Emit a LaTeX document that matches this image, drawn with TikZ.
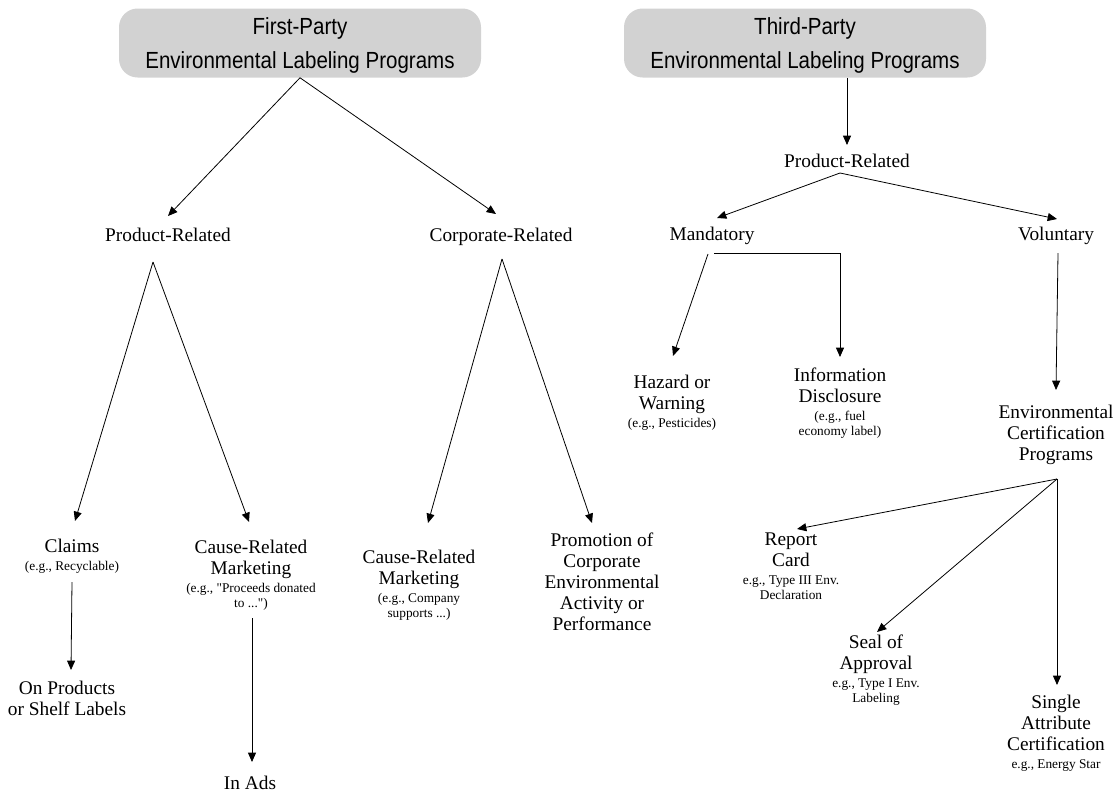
\documentclass[tikz,border=0pt]{standalone}
\usepackage{fontspec}
\setmainfont{Liberation Serif}
\newfontfamily\hdfont[FakeStretch=0.88]{Liberation Sans}
\usetikzlibrary{arrows.meta}

% 小字 (e.g., ...)
\newcommand{\egfont}{\fontsize{10}{11.25}\selectfont}

\tikzset{
  hdbox/.style={fill=gray!35, rounded corners=14pt, minimum width=271.5pt,
    minimum height=51.75pt, inner sep=0pt, text depth=0pt, align=center,
    font=\hdfont\fontsize{17.5}{25.5}\selectfont},
  lbl/.style={inner sep=0pt, align=center, font=\fontsize{14.5}{15.75}\selectfont},
  arr/.style={-{Triangle[length=7pt,width=6pt]}, line width=0.6pt},
  ln/.style={line width=0.6pt},
}

\begin{document}
\begin{tikzpicture}[x=0.75pt,y=-0.75pt]
    \useasboundingbox (0,0) rectangle (1120,793);

    % 标题框
    \node[hdbox] (fp) at (300,43) {First-Party\\Environmental Labeling Programs};
    \node[hdbox] (tp) at (805,43) {Third-Party\\Environmental Labeling Programs};

    % 第一方
    \node[lbl] (prl) at (168,235) {Product-Related};
    \node[lbl] (crl) at (501,237) {Corporate-Related};
    \node[lbl] (clm) at (72,556) {Claims\\[-2pt]\egfont (e.g., Recyclable)};
    \node[lbl] (crma) at (251,575) {Cause-Related\\Marketing\\[-2pt]\egfont (e.g., \textquotedbl Proceeds donated\\[-4.5pt]\egfont to ...\textquotedbl)};
    \node[lbl] (onp) at (67,698) {On Products\\or Shelf Labels};
    \node[lbl] (ads) at (250,783) {In Ads};
    \node[lbl] (crmb) at (419,585) {Cause-Related\\Marketing\\[-2pt]\egfont (e.g., Company\\[-4.5pt]\egfont supports ...)};
    \node[lbl] (prom) at (602,582) {Promotion of\\Corporate\\Environmental\\Activity or\\Performance};

    % 第三方
    \node[lbl] (prr) at (847,161) {Product-Related};
    \node[lbl] (man) at (712,236) {Mandatory};
    \node[lbl] (vol) at (1056,236) {Voluntary};
    \node[lbl] (haz) at (672,403) {Hazard or\\Warning\\[-2pt]\egfont (e.g., Pesticides)};
    \node[lbl] (inf) at (840,403) {Information\\Disclosure\\[-2pt]\egfont (e.g., fuel\\[-4.5pt]\egfont economy label)};
    \node[lbl] (ecp) at (1056,435) {Environmental\\Certification\\Programs};
    \node[lbl] (rep) at (791,566) {Report\\Card\\[-2pt]\egfont e.g., Type III Env.\\[-4.5pt]\egfont Declaration};
    \node[lbl] (seal) at (876,670) {Seal of\\Approval\\[-2pt]\egfont e.g., Type I Env.\\[-4.5pt]\egfont Labeling};
    \node[lbl] (sac) at (1056,733) {Single\\Attribute\\Certification\\[-2pt]\egfont e.g., Energy Star};

    % 第一方的箭头
    \draw[arr] (fp.south) -- ([shift={(0,-19)}]prl.center);
    \draw[arr] (fp.south) -- ([shift={(-5,-23)}]crl.center);
    \draw[arr] ([shift={(-15,27)}]prl.center) -- ([shift={(3,-35)}]clm.center);
    \draw[arr] ([shift={(-15,27)}]prl.center) -- ([shift={(-2,-53)}]crma.center);
    \draw[arr] ([shift={(0,26)}]clm.center) -- ([shift={(4,-28)}]onp.center);
    \draw[arr] ([shift={(1,43)}]crma.center) -- ([shift={(2,-21)}]ads.center);
    \draw[arr] ([shift={(1,22)}]crl.center) -- ([shift={(9,-62)}]crmb.center);
    \draw[arr] ([shift={(1,22)}]crl.center) -- ([shift={(-10,-59)}]prom.center);

    % 第三方的箭头
    \draw[arr] ([shift={(42,0)}]tp.south) -- ([shift={(0,-16)}]prr.center);
    \draw[arr] ([shift={(-7,12)}]prr.center) -- ([shift={(5,-18)}]man.center);
    \draw[arr] ([shift={(-7,12)}]prr.center) -- ([shift={(1,-17)}]vol.center);
    \draw[arr] ([shift={(-4,18)}]man.center) -- ([shift={(1,-47)}]haz.center);
    \draw[arr] ([shift={(2,17)}]man.center) -| ([shift={(0,-46)}]inf.center);
    \draw[arr] ([shift={(2,17)}]vol.center) -- ([shift={(0,-45)}]ecp.center);
    \foreach \t/\dx/\dy in {rep/6/-37, seal/1/-38, sac/1/-48}
        \draw[arr] ([shift={(1,44)}]ecp.center) -- ([shift={(\dx,\dy)}]\t.center);
\end{tikzpicture}
\end{document}
